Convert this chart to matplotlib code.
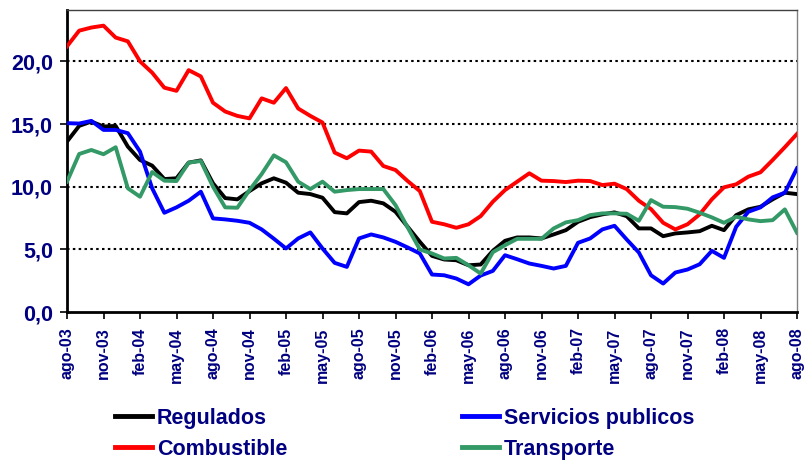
import matplotlib
matplotlib.use("Agg")
import matplotlib.pyplot as plt
import numpy as np

months = ["ene", "feb", "mar", "abr", "may", "jun", "jul", "ago", "sep", "oct", "nov", "dic"]
# monthly labels from ago-03 to ago-08
labels = []
for k in range(61):
    m = (7 + k) % 12
    y = 3 + (7 + k) // 12
    labels.append(f"{months[m]}-{y:02d}")

regulados = [13.6, 14.85, 15.2, 14.8, 14.85, 13.2, 12.13, 11.68, 10.61, 10.67,
             11.92, 12.1, 10.27, 9.09, 8.99, 9.65, 10.27, 10.67, 10.32, 9.52,
             9.41, 9.12, 7.97, 7.87, 8.77, 8.88, 8.67, 8.0, 6.8, 5.6,
             4.48, 4.19, 4.13, 3.73, 3.79, 4.88, 5.68, 5.95, 5.95, 5.87,
             6.19, 6.53, 7.2, 7.57, 7.79, 7.95, 7.65, 6.67, 6.67, 6.05,
             6.27, 6.35, 6.45, 6.88, 6.53, 7.73, 8.19, 8.4, 8.99, 9.52, 9.41]

servicios = [15.07, 15.04, 15.25, 14.53, 14.53, 14.27, 12.8, 9.87, 7.92, 8.35,
             8.88, 9.6, 7.47, 7.39, 7.28, 7.12, 6.59, 5.85, 5.07, 5.87,
             6.35, 5.07, 3.92, 3.6, 5.87, 6.19, 5.95, 5.6, 5.15, 4.67,
             2.99, 2.93, 2.67, 2.21, 2.91, 3.28, 4.53, 4.21, 3.87, 3.68,
             3.47, 3.68, 5.52, 5.87, 6.59, 6.88, 5.79, 4.75, 2.93, 2.27,
             3.15, 3.39, 3.81, 4.88, 4.32, 6.8, 8.0, 8.35, 9.15, 9.52, 11.47]

combustible = [21.2, 22.45, 22.7, 22.85, 21.9, 21.6, 20.0, 19.1, 17.9, 17.65,
               19.3, 18.8, 16.7, 16.0, 15.65, 15.45, 17.05, 16.7, 17.87, 16.24,
               15.65, 15.12, 12.72, 12.27, 12.88, 12.8, 11.65, 11.33, 10.45, 9.65,
               7.2, 7.0, 6.72, 7.0, 7.65, 8.8, 9.73, 10.4, 11.07, 10.48,
               10.45, 10.37, 10.48, 10.45, 10.13, 10.24, 9.81, 8.88, 8.21, 7.12,
               6.59, 7.0, 7.79, 8.99, 9.95, 10.19, 10.8, 11.15, 12.13, 13.15, 14.21]

transporte = [10.4, 12.61, 12.93, 12.59, 13.15, 9.87, 9.2, 11.17, 10.48, 10.45,
              11.92, 12.05, 10.0, 8.35, 8.32, 9.73, 11.01, 12.5, 11.95, 10.4,
              9.81, 10.4, 9.6, 9.73, 9.81, 9.81, 9.81, 8.53, 6.75, 4.99,
              4.67, 4.27, 4.32, 3.73, 3.07, 4.77, 5.33, 5.84, 5.84, 5.84,
              6.67, 7.15, 7.33, 7.73, 7.87, 7.87, 7.84, 7.28, 8.93, 8.4,
              8.37, 8.24, 7.92, 7.55, 7.12, 7.6, 7.39, 7.25, 7.33, 8.19, 6.32]

yticks = [0, 5, 10, 15, 20]
ytick_labels = ["0,0", "5,0", "10,0", "15,0", "20,0"]

navy = "#000080"
font = "Liberation Sans"

fig = plt.figure(figsize=(8.05, 4.61), dpi=100)
ax = fig.add_axes([67 / 805, 1 - 312 / 461, (797 - 67) / 805, (312 - 10) / 461])

x = np.arange(len(labels))
lw = 2.8
l1, = ax.plot(x, regulados, color="black", lw=lw, label="Regulados", zorder=3)
l2, = ax.plot(x, servicios, color="#0000FF", lw=lw, label="Servicios publicos", zorder=3)
l3, = ax.plot(x, combustible, color="#FF0000", lw=lw, label="Combustible", zorder=3)
l4, = ax.plot(x, transporte, color="#339966", lw=lw, label="Transporte", zorder=3)

ax.set_xlim(0, len(labels) - 1)
ax.set_ylim(0, 24.1)

for yv in yticks[1:]:
    ax.axhline(yv, color="black", lw=1.5, linestyle=(0, (1.2, 1.6)), zorder=1)

ax.set_yticks(yticks)
ax.set_yticklabels(ytick_labels, fontsize=15.5, fontweight="bold", color=navy, family=font)
ax.set_xticks(x[::3])
ax.set_xticklabels(labels[::3], rotation=90, fontsize=11.5, fontweight="bold", color=navy, family=font)
ax.tick_params(axis="both", direction="out", length=5, width=1.2, color="black")
ax.tick_params(axis="y", pad=5)
ax.tick_params(axis="x", pad=6)

ax.spines["left"].set_linewidth(2)
ax.spines["bottom"].set_linewidth(2)
ax.spines["top"].set_linewidth(1)
ax.spines["top"].set_color("#404040")
ax.spines["right"].set_linewidth(1)
ax.spines["right"].set_color("#808080")

leg = fig.legend(handles=[l1, l3, l2, l4], ncol=2, loc="upper left",
                 bbox_to_anchor=(115 / 805, 1 - 408 / 461), frameon=False,
                 prop={"family": font, "weight": "bold", "size": 15.5},
                 handlelength=1.72, handletextpad=0.23, columnspacing=8.1,
                 labelspacing=0.46, borderaxespad=0, borderpad=0)
for t in leg.get_texts():
    t.set_color(navy)
for h in leg.legend_handles:
    h.set_linewidth(3.5)

fig.savefig("out.png", dpi=100)
